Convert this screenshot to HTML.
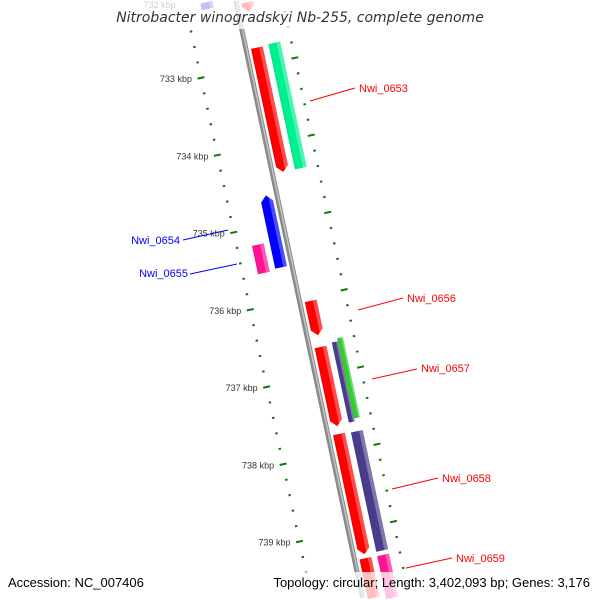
<!DOCTYPE html>
<html><head><meta charset="utf-8"><style>
html,body{margin:0;padding:0;background:#fff;width:600px;height:600px;overflow:hidden;}
svg{display:block;font-family:"Liberation Sans","DejaVu Sans",sans-serif;overflow:hidden;}
</style></head><body>
<svg id="chart" width="600" height="600" viewBox="0 0 600 600" xmlns="http://www.w3.org/2000/svg">
<defs>
<linearGradient id="shade" x1="0" x2="1" y1="0" y2="0">
<stop offset="0" stop-color="#000" stop-opacity="0.08"/>
<stop offset="0.15" stop-color="#000" stop-opacity="0"/>
<stop offset="0.68" stop-color="#fff" stop-opacity="0"/>
<stop offset="0.7" stop-color="#fff" stop-opacity="0.3"/>
<stop offset="1" stop-color="#fff" stop-opacity="0.3"/>
</linearGradient>
</defs>
<g id="frame" transform="translate(235.5,0) rotate(-12)"></g>
<g id="labels"></g>
<g font-size="11">
<line x1="310" y1="101" x2="355" y2="88" stroke="#f00" stroke-width="1"/>
<text x="359" y="92" fill="#f00">Nwi_0653</text>
<line x1="183" y1="240" x2="228" y2="230" stroke="#00f" stroke-width="1"/>
<text x="180" y="244" fill="#00f" text-anchor="end">Nwi_0654</text>
<line x1="190" y1="274" x2="237" y2="264" stroke="#00f" stroke-width="1"/>
<text x="188" y="277" fill="#00f" text-anchor="end">Nwi_0655</text>
<line x1="358" y1="310" x2="403" y2="298" stroke="#f00" stroke-width="1"/>
<text x="407" y="302" fill="#f00">Nwi_0656</text>
<line x1="372" y1="379" x2="417" y2="369" stroke="#f00" stroke-width="1"/>
<text x="421" y="372" fill="#f00">Nwi_0657</text>
<line x1="392" y1="489" x2="438" y2="478" stroke="#f00" stroke-width="1"/>
<text x="442" y="482" fill="#f00">Nwi_0658</text>
<line x1="406" y1="568" x2="452" y2="558" stroke="#f00" stroke-width="1"/>
<text x="456" y="562" fill="#f00">Nwi_0659</text>
</g>
<rect x="112" y="0" width="376" height="29" fill="#fff" fill-opacity="0.75"/>
<text x="300" y="22" text-anchor="middle" font-size="14" font-style="italic" fill="#333" style="font-family:'DejaVu Sans',sans-serif">Nitrobacter winogradskyi Nb-255, complete genome</text>
<rect x="0" y="572" width="152" height="28" fill="#fff" fill-opacity="0.75"/>
<text x="8" y="587" font-size="13" fill="#000">Accession: NC_007406</text>
<rect x="255" y="572" width="345" height="28" fill="#fff" fill-opacity="0.75"/>
<text x="590" y="587" font-size="13" fill="#000" text-anchor="end">Topology: circular; Length: 3,402,093 bp; Genes: 3,176</text>
</svg>
<script>
// data
const majorTicksKbp = [732, 733, 734, 735, 736, 737, 738, 739];
const geneStarts = [731870, 732772, 732760, 736050, 736646, 736620, 736582, 737772, 737785, 739380, 739385, 734627, 735215, 732000];
const geneEnds   = [732310, 734380, 734380, 736494, 737671, 737658, 737620, 739329, 739329, 740480, 740480, 735557, 735582, 732165];
const geneStrand = [1, 1, 1, 1, 1, 1, 1, 1, 1, 1, 1, -1, -1, -1];
const geneRing   = ['1', '1', '2', '1', '1', '2a', '2b', '1', '2', '1', '2', '1', '2', '2'];
const geneArrow  = [1, 1, 0, 1, 1, 0, 0, 1, 0, 1, 0, 1, 0, 0];
const geneColor  = ['#ff0000', '#ff0000', '#00f090', '#ff0000', '#ff0000', '#483d8b', '#33cc33', '#ff0000', '#483d8b', '#ff0000', '#ff1493', '#0000ff', '#ff1493', '#0000ff'];

const NS = 'http://www.w3.org/2000/svg';
const frame = document.getElementById('frame');
const labels = document.getElementById('labels');
const A = 12 * Math.PI / 180, C = Math.cos(A), S = Math.sin(A);
function uScale(bp) { return 69 + (bp - 733000) * 0.079; }
function ringV(ring, strand) {
  const r = {'1': [5, 17], '2': [23, 35], '2a': [23, 29], '2b': [29, 35]}[ring];
  return strand > 0 ? r : [-r[1], -r[0]];
}
function toScreen(v, u) { return [235.5 + v * C + u * S, -v * S + u * C]; }
function uMaxAt(v) { return (599 + v * S) / C; }
function uMinAt(v) { return (1 + v * S) / C; }

// backbone
let bb = document.createElementNS(NS, 'rect');


bb.setAttribute('x', -2.5); bb.setAttribute('y', 1); bb.setAttribute('width', 5); bb.setAttribute('height', 610);
bb.setAttribute('fill', '#8a8a8a');
frame.appendChild(bb);
let bb2 = document.createElementNS(NS, 'rect');


bb2.setAttribute('x', 0); bb2.setAttribute('y', 1); bb2.setAttribute('width', 1.5); bb2.setAttribute('height', 610);
bb2.setAttribute('fill', '#c4c4c4');
frame.appendChild(bb2);

// ticks
for (let bp = 731800; bp <= 739800; bp += 200) {
  const u = uScale(bp);
  const major = bp % 1000 === 0;
  [-50, 46].forEach(v0 => {
    if (u > uMaxAt(v0) - 2 || u < uMinAt(v0) + 2) return;
    const t = document.createElementNS(NS, 'line');
    
    
    const len = major ? 7 : 2.5;
    t.setAttribute('x1', v0 - len / 2); t.setAttribute('x2', v0 + len / 2);
    t.setAttribute('y1', u); t.setAttribute('y2', u);
    t.setAttribute('stroke', '#117711'); t.setAttribute('stroke-width', 2);
    frame.appendChild(t);
  });
}
majorTicksKbp.forEach(k => {
  const [x, y] = toScreen(-51, uScale(k * 1000));
  const t = document.createElementNS(NS, 'text');
  
  
  t.setAttribute('x', x - 8); t.setAttribute('y', Math.max(y + 4, 8));
  t.setAttribute('text-anchor', 'end'); t.setAttribute('font-size', '9'); t.setAttribute('fill', '#333');
  t.textContent = k + ' kbp';
  labels.appendChild(t);
});

// genes
geneStarts.forEach((s, i) => {
  const [v0, v1] = ringV(geneRing[i], geneStrand[i]);
  let u0 = uScale(s), u1 = uScale(geneEnds[i]);
  const lo = Math.max(uMinAt(v0), uMinAt(v1)), hi = Math.min(uMaxAt(v0), uMaxAt(v1));
  let arrow = geneArrow[i];
  if (u0 < lo) { u0 = lo; if (geneStrand[i] < 0) arrow = 0; }
  if (u1 > hi) { u1 = hi; if (geneStrand[i] > 0) arrow = 0; }
  const vm = (v0 + v1) / 2, ah = 6;
  let pts;
  if (arrow && geneStrand[i] > 0) {
    pts = [[v0, u0], [v1, u0], [v1, u1 - ah], [vm, u1], [v0, u1 - ah]];
  } else if (arrow && geneStrand[i] < 0) {
    pts = [[vm, u0], [v1, u0 + ah], [v1, u1], [v0, u1], [v0, u0 + ah]];
  } else {
    pts = [[v0, u0], [v1, u0], [v1, u1], [v0, u1]];
  }
  const d = pts.map(p => p.join(',')).join(' ');
  const g = document.createElementNS(NS, 'polygon');
  
  
  g.setAttribute('points', d);
  g.setAttribute('fill', geneColor[i]);
  frame.appendChild(g);
  const h = document.createElementNS(NS, 'polygon');
  
  
  h.setAttribute('points', d);
  h.setAttribute('fill', 'url(#shade)');
  frame.appendChild(h);
});
</script>
</body></html>
